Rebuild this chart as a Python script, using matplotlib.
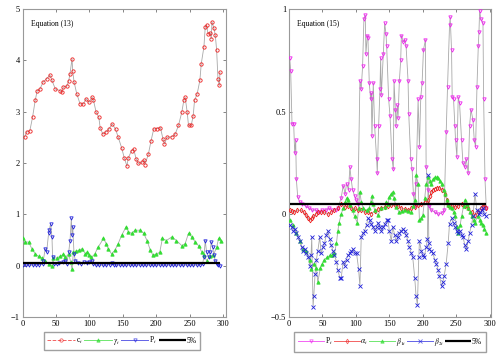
import numpy as np
import matplotlib
matplotlib.use("Agg")
import matplotlib.pyplot as plt

plt.rcParams['font.family'] = ['Liberation Serif', 'DejaVu Serif']
plt.rcParams['mathtext.fontset'] = 'stix'

# ---- Equation (13) : (t, value)
c_t = [(3, 2.50), (6, 2.60), (11, 2.63), (15, 2.89), (19, 3.22), (22, 3.41), (26, 3.44), (31, 3.58),
       (36, 3.64), (41, 3.71), (44, 3.61), (49, 3.44), (56, 3.41), (59, 3.38), (61, 3.48), (66, 3.49),
       (69, 3.60), (71, 3.74), (74, 4.03), (75, 3.79), (77, 3.58), (81, 3.35), (86, 3.15), (91, 3.15),
       (95, 3.25), (99, 3.18), (104, 3.28), (106, 3.22), (110, 2.99), (114, 2.89), (116, 2.69), (120, 2.56),
       (124, 2.60), (129, 2.66), (134, 2.76), (139, 2.66), (143, 2.50), (148, 2.30), (152, 2.10), (156, 1.94),
       (158, 2.10), (163, 2.24), (166, 2.27), (170, 2.07), (173, 1.99), (178, 2.01), (182, 2.05), (183, 1.97),
       (188, 2.17), (192, 2.43), (196, 2.66), (201, 2.67), (206, 2.69), (210, 2.46), (212, 2.37), (216, 2.50),
       (223, 2.51), (228, 2.56), (233, 2.73), (238, 2.99), (241, 3.22), (243, 3.28), (246, 2.99), (248, 2.73),
       (252, 2.73), (255, 2.92), (257, 3.22), (261, 3.35), (265, 3.61), (267, 3.93), (271, 4.26), (273, 4.65),
       (275, 4.69), (277, 4.52), (280, 4.54), (282, 4.42), (283, 4.75), (286, 4.62), (288, 4.49), (290, 4.20),
       (292, 3.64), (294, 3.51), (295, 3.77)]

gamma_t = [(1, 0.53), (4, 0.46), (9, 0.46), (14, 0.33), (19, 0.23), (24, 0.18), (29, 0.15), (34, 0.10),
           (39, 0.03), (44, 0.00), (46, 0.15), (51, 0.15), (56, 0.18), (61, 0.22), (64, 0.16), (69, 0.23),
           (72, 0.07), (74, -0.07), (76, 0.26), (80, 0.28), (84, 0.30), (89, 0.33), (94, 0.23), (97, 0.26),
           (100, 0.20), (103, 0.16), (108, 0.23), (113, 0.36), (121, 0.53), (125, 0.43), (128, 0.33), (133, 0.23),
           (138, 0.30), (143, 0.43), (148, 0.59), (155, 0.76), (158, 0.66), (163, 0.63), (168, 0.69), (176, 0.69),
           (181, 0.63), (186, 0.49), (191, 0.30), (195, 0.20), (200, 0.23), (205, 0.26), (209, 0.53), (215, 0.49),
           (223, 0.56), (230, 0.49), (238, 0.39), (243, 0.43), (248, 0.63), (253, 0.56), (258, 0.46), (263, 0.39),
           (268, 0.26), (271, 0.20), (275, 0.10), (280, 0.18), (285, 0.20), (290, 0.36), (293, 0.53), (296, 0.49)]

p_left = [(1, 0.01), (5, 0.01), (10, 0.01), (15, 0.01), (20, 0.02), (25, 0.02), (30, 0.03), (31, 0.10),
          (34, 0.33), (36, 0.26), (39, 0.63), (40, 0.69), (42, 0.82), (44, 0.56), (45, 0.16), (47, 0.03),
          (51, 0.04), (55, 0.06), (60, 0.08), (64, 0.10), (66, 0.03), (69, 0.26), (71, 0.49), (73, 0.92),
          (74, 0.59), (75, 0.76), (77, 0.23), (79, 0.10), (83, 0.06), (88, 0.04), (92, 0.07), (96, 0.05),
          (100, 0.08), (104, 0.10), (106, 0.03), (110, 0.01), (115, 0.01), (120, 0.01), (125, 0.01), (130, 0.02),
          (133, 0.05), (136, 0.02), (140, 0.01), (145, 0.01), (150, 0.01), (155, 0.01), (160, 0.01), (165, 0.01),
          (170, 0.01), (175, 0.01), (180, 0.01), (185, 0.01), (190, 0.01), (195, 0.01), (200, 0.01), (205, 0.01),
          (210, 0.01), (215, 0.01), (220, 0.01), (225, 0.01), (230, 0.01), (235, 0.01), (240, 0.01), (245, 0.01),
          (250, 0.01), (255, 0.01), (260, 0.01), (265, 0.02), (269, 0.04), (271, 0.16), (273, 0.49), (275, 0.26),
          (278, 0.16), (280, 0.26), (282, 0.46), (284, 0.36), (286, 0.20), (288, 0.10), (290, 0.03), (292, 0.01),
          (295, 0.00)]

# ---- Equation (15)
p_right = [(1, 0.76), (2.5, 0.70), (4.5, 0.44), (7, 0.44), (8.5, 0.30), (10, 0.36), (11, 0.17), (13, 0.085),
           (16, 0.06), (20, 0.05), (25, 0.04), (30, 0.03), (35, 0.02), (40, 0.02), (45, 0.01), (50, 0.02),
           (55, 0.02), (60, 0.03), (65, 0.02), (70, 0.02), (73, 0.03), (78, 0.08), (81, 0.14), (84, 0.10),
           (86, 0.15), (89, 0.12), (91, 0.23), (93, 0.17), (95, 0.12), (98, 0.09), (100, 0.07), (103, 0.05),
           (106, 0.65), (108, 0.61), (110, 0.72), (112, 0.95), (114, 0.97), (115, 0.78), (117, 0.87), (118, 0.86),
           (120, 0.64), (122, 0.56), (123, 0.59), (124, 0.38), (126, 0.64), (128, 0.43), (131, 0.27), (132, 0.20),
           (134, 0.43), (136, 0.61), (137, 0.76), (138, 0.58), (141, 0.78), (143, 0.93), (145, 0.88), (146, 0.82),
           (149, 0.56), (151, 0.48), (154, 0.27), (156, 0.22), (157, 0.65), (159, 0.51), (160, 0.43), (162, 0.53),
           (163, 0.47), (165, 0.65), (167, 0.75), (168, 0.87), (171, 0.84), (173, 0.85), (175, 0.82), (178, 0.65),
           (179, 0.49), (182, 0.27), (184, 0.22), (186, 0.10), (188, 0.04), (190, 0.15), (193, 0.56), (195, 0.33),
           (197, 0.57), (199, 0.64), (201, 0.80), (204, 0.85), (205, 0.23), (208, 0.12), (210, 0.04), (213, 0.02),
           (218, 0.01), (223, 0.00), (228, 0.005), (232, 0.02), (235, 0.40), (237, 0.62), (240, 0.92), (241, 0.96),
           (243, 0.80), (244, 0.57), (246, 0.56), (248, 0.43), (249, 0.36), (251, 0.28), (253, 0.57), (255, 0.54),
           (258, 0.36), (260, 0.25), (263, 0.23), (265, 0.27), (268, 0.20), (270, 0.43), (272, 0.51), (275, 0.46),
           (277, 0.36), (279, 0.33), (281, 0.62), (283, 0.82), (284, 0.89), (285, 0.99), (287, 0.95), (290, 0.93),
           (291, 0.56), (293, 0.17), (295, 0.03)]

alpha_t = [(1, 0.02), (5, 0.015), (8, 0.01), (12, 0.02), (18, 0.02), (22, 0.01), (26, -0.005), (29, -0.02),
           (31, -0.03), (34, -0.02), (36, -0.01), (40, 0.0), (43, 0.01), (48, 0.01), (53, 0.01), (58, 0.0),
           (63, 0.01), (68, 0.02), (73, 0.03), (78, 0.05), (83, 0.035), (88, 0.04), (93, 0.03), (98, 0.03),
           (103, 0.02), (108, 0.02), (113, 0.01), (118, 0.01), (123, 0.003), (128, 0.015), (133, 0.025), (138, 0.03),
           (143, 0.035), (148, 0.04), (153, 0.045), (158, 0.045), (163, 0.04), (168, 0.03), (173, 0.025), (178, 0.02),
           (183, 0.03), (188, 0.035), (193, 0.045), (198, 0.05), (203, 0.06), (208, 0.07), (211, 0.09), (213, 0.11),
           (216, 0.12), (218, 0.125), (221, 0.13), (225, 0.13), (229, 0.12), (233, 0.10), (236, 0.07), (238, 0.045),
           (243, 0.04), (248, 0.035), (253, 0.04), (258, 0.05), (263, 0.04), (268, 0.03), (273, 0.01), (278, -0.005),
           (282, 0.01), (287, 0.03), (290, 0.04), (292, 0.045), (295, 0.03)]

beta1_t = [(1, -0.03), (6, -0.05), (11, -0.09), (16, -0.13), (21, -0.17), (26, -0.18), (31, -0.22), (33, -0.265),
           (37, -0.24), (41, -0.26), (43, -0.33), (47, -0.26), (50, -0.24), (53, -0.22), (57, -0.21), (61, -0.20),
           (65, -0.20), (68, -0.19), (71, -0.14), (73, -0.08), (75, -0.04), (78, 0.0), (81, 0.03), (84, 0.06),
           (86, 0.08), (88, 0.07), (91, 0.045), (95, 0.02), (98, -0.01), (102, -0.04), (104, 0.03), (106, 0.11),
           (108, 0.06), (111, 0.03), (116, 0.02), (120, 0.03), (122, 0.06), (124, 0.09), (126, 0.05), (128, 0.02),
           (133, -0.005), (138, 0.03), (143, 0.035), (145, 0.06), (148, 0.05), (150, 0.085), (153, 0.10), (155, 0.11),
           (157, 0.08), (160, 0.035), (165, 0.01), (169, 0.015), (173, 0.02), (178, 0.015), (183, 0.01), (186, 0.04),
           (188, 0.07), (190, 0.19), (193, 0.15), (195, -0.03), (198, -0.02), (200, -0.005), (203, 0.08), (205, 0.15),
           (208, 0.18), (211, 0.16), (213, 0.15), (216, 0.17), (218, 0.18), (221, 0.18), (223, 0.175), (226, 0.16),
           (228, 0.15), (231, 0.12), (233, 0.10), (236, 0.07), (238, 0.045), (241, 0.035), (243, 0.03), (246, 0.01),
           (248, -0.01), (251, -0.06), (253, -0.09), (256, -0.05), (258, -0.01), (261, 0.04), (263, 0.07), (266, 0.05),
           (268, 0.03), (271, 0.01), (273, -0.01), (276, -0.03), (278, -0.04), (282, -0.01), (285, -0.03), (287, -0.04),
           (290, -0.05), (292, -0.07), (295, -0.09)]

beta2_t = [(1, -0.05), (4, -0.06), (6, -0.08), (9, -0.07), (11, -0.09), (14, -0.11), (16, -0.13), (19, -0.16),
           (21, -0.18), (24, -0.17), (26, -0.19), (29, -0.21), (31, -0.25), (33, -0.20), (34, -0.11), (36, -0.45),
           (37, -0.40), (39, -0.29), (41, -0.22), (43, -0.18), (46, -0.11), (48, -0.19), (51, -0.16), (53, -0.14),
           (56, -0.10), (58, -0.08), (61, -0.12), (63, -0.15), (66, -0.18), (68, -0.20), (71, -0.23), (73, -0.27),
           (76, -0.31), (78, -0.31), (81, -0.23), (83, -0.25), (86, -0.22), (88, -0.20), (91, -0.19), (93, -0.18),
           (96, -0.17), (98, -0.19), (101, -0.19), (104, -0.265), (106, -0.35), (108, -0.11), (111, -0.09), (113, -0.08),
           (116, -0.05), (118, -0.02), (121, -0.03), (123, -0.045), (126, -0.06), (128, -0.08), (131, -0.06), (133, -0.04),
           (136, -0.06), (138, -0.08), (141, -0.06), (143, -0.045), (146, -0.03), (148, -0.03), (150, -0.08), (153, -0.13),
           (155, -0.06), (158, -0.10), (160, -0.13), (163, -0.11), (165, -0.09), (168, -0.08), (170, -0.07), (173, -0.08),
           (175, -0.10), (178, -0.13), (180, -0.16), (183, -0.19), (185, -0.21), (188, -0.31), (190, -0.40), (192, -0.44),
           (194, -0.21), (195, -0.13), (198, -0.18), (200, -0.20), (202, -0.21), (205, -0.16), (207, -0.12), (208, 0.19),
           (209, -0.14), (210, -0.17), (213, -0.18), (215, -0.19), (218, -0.22), (220, -0.24), (223, -0.27), (225, -0.30),
           (228, -0.35), (230, -0.33), (232, -0.30), (235, -0.24), (238, -0.14), (240, -0.045), (243, -0.02), (246, -0.04),
           (248, -0.06), (251, -0.08), (253, -0.09), (256, -0.08), (258, -0.10), (260, -0.11), (263, -0.15), (265, -0.17),
           (268, -0.13), (270, -0.09), (273, -0.05), (275, -0.01), (278, 0.10), (281, 0.02), (284, 0.0), (286, 0.01),
           (288, 0.02), (290, 0.03), (292, 0.0), (295, -0.01)]

level_5pct = 0.05
line_span = (1, 295)

GRAY = '#a8a8a8'


def draw(ax, pts, color, marker, label, ls='-', mfc=None):
    x, y = np.array(pts).T
    ax.plot(x, y, color=GRAY, lw=0.6, zorder=2)
    ax.plot(x, y, ls='none', marker=marker, ms=2.4, mew=0.6, mec=color,
            mfc=color if mfc is None else mfc, zorder=3)
    # legend proxy
    ax.plot([], [], color=color, ls=ls, lw=0.7, alpha=0.7, marker=marker, ms=2.4, mew=0.6,
            mec=color, mfc=color if mfc is None else mfc, label=label)


def style(ax):
    for s in ax.spines.values():
        s.set_color('#999999')
        s.set_linewidth(0.8)
    ax.tick_params(direction='in', length=2.5, width=0.5, color='#555555',
                   labelsize=6, pad=2, top=True, right=True)


fig = plt.figure(figsize=(5, 3.57), dpi=100)
ax1 = fig.add_axes([0.045, 0.112, 0.407, 0.863])
ax2 = fig.add_axes([0.578, 0.112, 0.404, 0.863])

# left panel
draw(ax1, c_t, '#ee2020', 'o', r'c$_t$', ls='--', mfc='none')
draw(ax1, gamma_t, '#33dd33', '^', r'$\gamma_t$')
draw(ax1, p_left, '#2020dd', 'v', r'P$_t$', mfc='none')
ax1.hlines(level_5pct, *line_span, color='black', lw=1.6, zorder=4, label='5%')
ax1.set_xlim(0, 304)
ax1.set_ylim(-1, 5)
ax1.set_xticks(np.arange(0, 301, 50))
ax1.set_yticks(np.arange(-1, 6, 1))
ax1.text(0.04, 0.965, 'Equation (13)', transform=ax1.transAxes, fontsize=5.5, va='top')
style(ax1)
ax1.legend(loc='upper center', bbox_to_anchor=(0.49, -0.036), ncol=4, fontsize=5.5,
           frameon=True, fancybox=False, edgecolor='#888888', handlelength=3.6,
           columnspacing=0.2, handletextpad=0.1, borderpad=0.4, numpoints=1)

# right panel
draw(ax2, p_right, '#ee22ee', 'v', r'P$_t$', mfc='none')
draw(ax2, alpha_t, '#ee2020', 'd', r'$\alpha_t$', mfc='none')
draw(ax2, beta1_t, '#33dd33', '^', r'$\beta_{1t}$')
draw(ax2, beta2_t, '#2020dd', 'x', r'$\beta_{2t}$')
ax2.hlines(level_5pct, *line_span, color='black', lw=1.6, zorder=4, label='5%')
ax2.set_xlim(0, 302)
ax2.set_ylim(-0.5, 1)
ax2.set_xticks(np.arange(0, 301, 50))
ax2.set_yticks([-0.5, 0, 0.5, 1])
ax2.set_yticklabels(['\u22120.5', '0', '0.5', '1'])
ax2.text(0.04, 0.965, 'Equation (15)', transform=ax2.transAxes, fontsize=5.5, va='top')
style(ax2)
ax2.legend(loc='upper center', bbox_to_anchor=(0.5, -0.036), ncol=5, fontsize=5.5,
           frameon=True, fancybox=False, edgecolor='#888888', handlelength=3.4,
           columnspacing=0.1, handletextpad=0.1, borderpad=0.5, numpoints=1)

fig.savefig('out.png', dpi=100)
